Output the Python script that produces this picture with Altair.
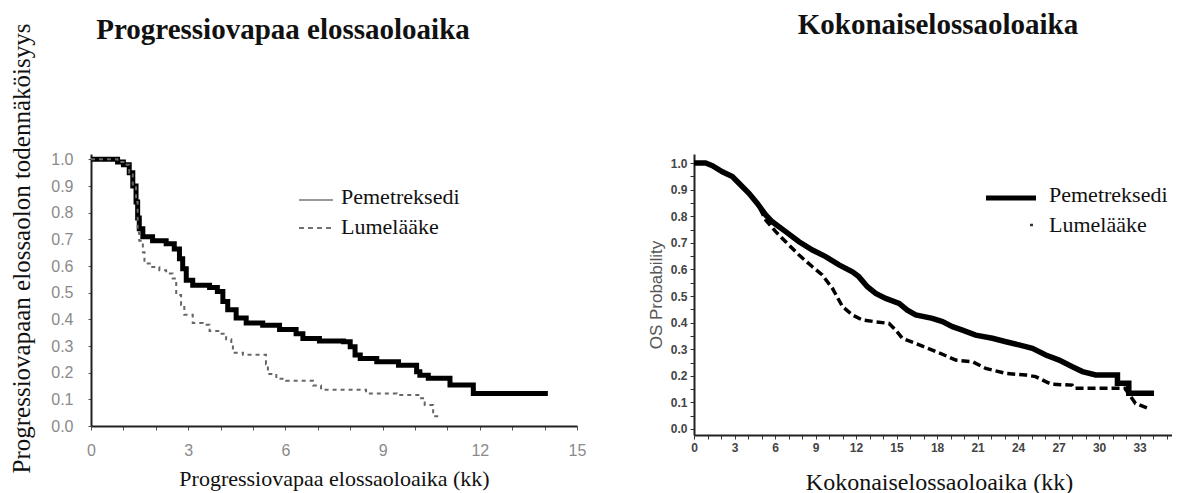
import altair as alt
import pandas as pd

# ---------------- data ----------------
# Left panel: progression-free survival (months, probability)
pfs_pem_t = [0, 0.82, 1.0, 1.18, 1.29, 1.39, 1.44, 1.49, 1.6, 1.9, 2.32, 2.57, 2.73, 2.83, 2.94, 3.14,
             3.66, 3.9, 4.07, 4.22, 4.48, 4.79, 5.3, 5.82, 6.33, 6.54, 7.05, 7.79, 8.0, 8.15, 8.31,
             8.82, 9.49, 10.05, 10.15, 10.41, 11.08, 11.8, 14.1]
pfs_pem_s = [1.0, 0.99, 0.98, 0.95, 0.90, 0.84, 0.78, 0.74, 0.71, 0.695, 0.683, 0.664, 0.627, 0.59, 0.547, 0.528,
             0.519, 0.504, 0.467, 0.436, 0.405, 0.386, 0.378, 0.362, 0.346, 0.328, 0.319, 0.316, 0.297, 0.266, 0.253,
             0.241, 0.228, 0.203, 0.19, 0.179, 0.154, 0.122, 0.122]

pfs_plc_t = [0, 0.82, 1.0, 1.18, 1.29, 1.39, 1.44, 1.49, 1.6, 1.65, 1.85, 2.11, 2.32, 2.52, 2.63, 2.78,
             2.88, 3.14, 3.45, 3.66, 3.96, 4.17, 4.33, 4.38, 4.69, 5.4, 5.46, 5.72, 6.02, 6.85, 7.1,
             8.49, 9.44, 10.15, 10.3, 10.56, 10.82]
pfs_plc_s = [1.0, 0.99, 0.98, 0.95, 0.90, 0.84, 0.726, 0.695, 0.652, 0.609, 0.596, 0.584, 0.572, 0.553, 0.491, 0.454,
             0.417, 0.386, 0.38, 0.356, 0.346, 0.325, 0.306, 0.275, 0.267, 0.232, 0.195, 0.177, 0.17, 0.152, 0.136,
             0.122, 0.116, 0.104, 0.079, 0.037, 0.037]

# Right panel: overall survival (months, probability)
os_pem_t = [0, 0.86, 1.36, 2.1, 2.84, 3.33, 4.07, 4.69, 5.31, 5.8, 6.79, 7.78, 8.77, 9.75, 10.74, 11.73,
            12.2, 12.84, 13.46, 14.2, 15.19, 15.8, 16.42, 17.65, 18.4, 19.14, 19.88, 20.86, 22.1, 23.1,
            24.07, 25.06, 26.05, 27.04, 28.02, 28.77, 29.75, 31.36, 31.36, 32.2, 32.2, 34.07]
os_pem_s = [1.0, 1.0, 0.99, 0.967, 0.949, 0.924, 0.886, 0.848, 0.805, 0.779, 0.742, 0.704, 0.673, 0.648, 0.617, 0.591,
            0.573, 0.535, 0.51, 0.491, 0.472, 0.447, 0.429, 0.416, 0.404, 0.385, 0.372, 0.353, 0.341, 0.328,
            0.316, 0.303, 0.278, 0.259, 0.234, 0.216, 0.203, 0.203, 0.172, 0.172, 0.134, 0.134]

os_plc_t = [0, 0.86, 1.36, 2.1, 2.84, 3.33, 4.07, 4.69, 5.31, 6.05, 6.79, 7.78, 8.77, 9.5, 10.25, 11.0,
            11.73, 12.47, 13.46, 14.44, 14.94, 15.43, 16.42, 17.65, 18.4, 19.38, 20.62, 21.6, 23.1,
            24.57, 25.3, 26.05, 26.5, 28.0, 28.15, 31.9, 32.7, 33.6]
os_plc_s = [1.0, 1.0, 0.99, 0.967, 0.949, 0.924, 0.886, 0.848, 0.786, 0.742, 0.704, 0.654, 0.61, 0.579, 0.529, 0.46,
            0.429, 0.41, 0.403, 0.397, 0.372, 0.341, 0.322, 0.297, 0.281, 0.259, 0.253, 0.228, 0.209,
            0.203, 0.197, 0.178, 0.168, 0.165, 0.153, 0.153, 0.096, 0.078]

series_names = ["Pemetreksedi", "Lumelääke"]
left_title = "Progressiovapaa elossaoloaika"
right_title = "Kokonaiselossaoloaika"
left_xtitle = "Progressiovapaa elossaoloaika (kk)"
left_ytitle = "Progressiovapaan elossaolon todennäköisyys"
right_xtitle = "Kokonaiselossaoloaika (kk)"
right_ytitle = "OS Probability"

left_xticks = list(range(0, 16))
left_yticks = [round(i * 0.1, 2) for i in range(0, 11)]
right_xticks = list(range(0, 36))
right_yticks = [round(i * 0.05, 3) for i in range(0, 21)]

SERIF = "Liberation Serif"
SANS = "Liberation Sans"

# ---------------- left panel ----------------
LW, LH = 486, 272
df_pfs_pem = pd.DataFrame({"t": pfs_pem_t, "s": pfs_pem_s})
df_pfs_plc = pd.DataFrame({"t": pfs_plc_t, "s": pfs_plc_s})

lx = alt.X("t:Q", scale=alt.Scale(domain=[0, 15], nice=False, zero=False),
           axis=alt.Axis(values=left_xticks, tickCount=200, format="d", title=left_xtitle,
                         labelExpr="datum.value % 3 === 0 ? datum.label : ''",
                         labelOverlap=False, labelFlush=False, labelBound=False,
                         labelFont=SANS, labelFontSize=16, labelColor="#8a8a8a", labelPadding=12,
                         tickSize=4, tickColor="#555", domainColor="#222", domainWidth=2,
                         titleFont=SERIF, titleFontSize=22, titleFontWeight="normal", titleColor="#111",
                         titleY=52, titleBaseline="middle", grid=False))
ly = alt.Y("s:Q", scale=alt.Scale(domain=[0, 1.02], nice=False, zero=False),
           axis=alt.Axis(values=left_yticks, tickCount=200, format=".1f", title=left_ytitle,
                         labelOverlap=False, labelFlush=False, labelBound=False,
                         labelFont=SANS, labelFontSize=16, labelColor="#8a8a8a", labelPadding=15,
                         tickSize=3, tickColor="#555", domainColor="#222", domainWidth=2,
                         titleFont=SERIF, titleFontSize=25, titleFontWeight="normal", titleColor="#111",
                         titleX=-70, titleY=94, titleAngle=270, titleAlign="center",
                         titleBaseline="middle", grid=False))

l_pem = alt.Chart(df_pfs_pem).mark_line(color="black", strokeWidth=5, interpolate="step-after").encode(x=lx, y=ly)
l_plc = alt.Chart(df_pfs_plc).mark_line(color="#666", strokeWidth=2, strokeDash=[4, 4],
                                        interpolate="step-after").encode(x="t:Q", y="s:Q")

l_title = alt.Chart(pd.DataFrame({"txt": [left_title]})).mark_text(
    font=SERIF, fontSize=29, fontWeight="bold", color="#111", baseline="middle", align="center"
).encode(text="txt:N", x=alt.value(192), y=alt.value(-124))

l_leg_txt = alt.Chart(pd.DataFrame({"txt": series_names, "yy": [43, 73]})).mark_text(
    font=SERIF, fontSize=22, color="#111", baseline="middle", align="left"
).encode(text="txt:N", x=alt.value(250), y=alt.Y("yy:Q", scale=None, axis=None))
l_leg_solid = alt.Chart(pd.DataFrame({"k": [0]})).mark_rule(color="#999", strokeWidth=2).encode(
    x=alt.value(208), x2=alt.value(242), y=alt.value(46))
l_leg_dash = alt.Chart(pd.DataFrame({"k": [0]})).mark_rule(color="#444", strokeWidth=1.5, strokeDash=[5, 4]).encode(
    x=alt.value(208), x2=alt.value(242), y=alt.value(74))

left = alt.layer(l_pem, l_plc, l_title, l_leg_txt, l_leg_solid, l_leg_dash).properties(width=LW, height=LH)

# ---------------- right panel ----------------
RW, RH = 478, 281
df_os_pem = pd.DataFrame({"t": os_pem_t, "s": os_pem_s})
df_os_plc = pd.DataFrame({"t": os_plc_t, "s": os_plc_s})

rx = alt.X("t:Q", scale=alt.Scale(domain=[0, 35.4], nice=False, zero=False),
           axis=alt.Axis(values=right_xticks, tickCount=200, format="d", title=right_xtitle,
                         labelExpr="datum.value % 3 === 0 ? datum.label : ''",
                         labelOverlap=False, labelFlush=False, labelBound=False,
                         labelFont=SANS, labelFontSize=12, labelFontWeight="bold", labelColor="#444",
                         labelPadding=3, tickSize=4, tickColor="#333", domainColor="#222", domainWidth=2,
                         titleFont=SERIF, titleFontSize=24, titleFontWeight="normal", titleColor="#111",
                         titleX=245, titleY=47, titleBaseline="middle", grid=False))
ry = alt.Y("s:Q", scale=alt.Scale(domain=[-0.0226, 1.034], nice=False, zero=False),
           axis=alt.Axis(values=right_yticks, tickCount=200, title=right_ytitle,
                         labelExpr="round(datum.value*100) % 10 === 0 ? format(datum.value, '.1f') : ''",
                         labelOverlap=False, labelFlush=False, labelBound=False,
                         labelFont=SANS, labelFontSize=12, labelFontWeight="bold", labelColor="#444",
                         labelPadding=3, tickSize=4, tickColor="#333", domainColor="#222", domainWidth=2,
                         titleFont=SANS, titleFontSize=17, titleFontWeight="normal", titleColor="#555",
                         titleX=-38, titleAngle=270, titleBaseline="middle", grid=False))

r_pem = alt.Chart(df_os_pem).mark_line(color="black", strokeWidth=5.5).encode(x=rx, y=ry)
r_plc = alt.Chart(df_os_plc).mark_line(color="black", strokeWidth=3.5, strokeDash=[8, 4]).encode(x="t:Q", y="s:Q")

r_title = alt.Chart(pd.DataFrame({"txt": [right_title]})).mark_text(
    font=SERIF, fontSize=29, fontWeight="bold", color="#111", baseline="middle", align="center"
).encode(text="txt:N", x=alt.value(244), y=alt.value(-129))

r_leg_txt = alt.Chart(pd.DataFrame({"txt": series_names, "yy": [41, 71]})).mark_text(
    font=SERIF, fontSize=22, color="#111", baseline="middle", align="left"
).encode(text="txt:N", x=alt.value(355), y=alt.Y("yy:Q", scale=None, axis=None))
r_leg_solid = alt.Chart(pd.DataFrame({"k": [0]})).mark_rule(color="black", strokeWidth=5).encode(
    x=alt.value(292), x2=alt.value(342), y=alt.value(44))
r_leg_dot = alt.Chart(pd.DataFrame({"k": [0]})).mark_rule(color="#333", strokeWidth=2.5).encode(
    x=alt.value(336), x2=alt.value(339), y=alt.value(71))

right = alt.layer(r_pem, r_plc, r_title, r_leg_txt, r_leg_solid, r_leg_dot).properties(width=RW, height=RH)

chart = alt.hconcat(left, right, spacing=117, bounds="flush").properties(
    padding={"left": 0, "top": 3, "right": 0, "bottom": 0}
).configure(background="white").configure_view(
    strokeWidth=0, strokeOpacity=0, stroke="transparent"
).configure_axis(
    labelOverlap=False, labelFlush=False
)

chart.save("out.html", embed_options={"renderer": "svg", "actions": False})
